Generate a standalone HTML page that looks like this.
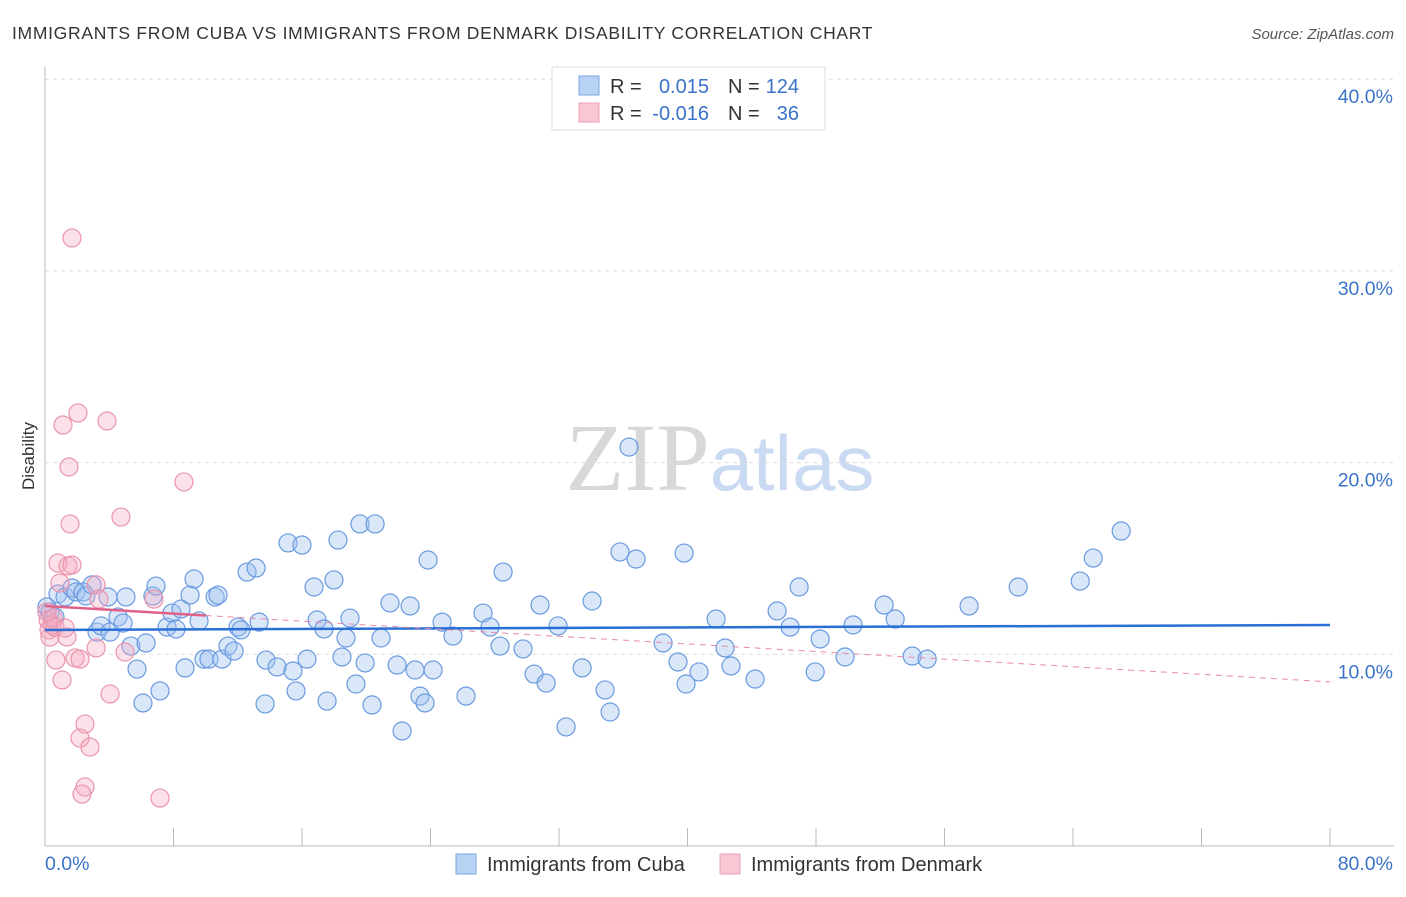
<!DOCTYPE html>
<html><head><meta charset="utf-8">
<style>
body{margin:0;background:#fff;font-family:"Liberation Sans",sans-serif;}
svg text{font-family:"Liberation Sans",sans-serif;}
</style></head>
<body>
<svg id="chart" width="1406" height="892" viewBox="0 0 1406 892" xmlns="http://www.w3.org/2000/svg">
<text x="12" y="39" font-size="17.5" letter-spacing="0.7" fill="#333">IMMIGRANTS FROM CUBA VS IMMIGRANTS FROM DENMARK DISABILITY CORRELATION CHART</text>
<text x="1394" y="39" font-size="15" fill="#555" font-style="italic" text-anchor="end">Source: ZipAtlas.com</text>
<text x="720" y="490" font-size="96" text-anchor="middle"><tspan fill="#d8d8d8" font-family="Liberation Serif">ZIP</tspan><tspan fill="#c9daf2" font-size="78">atlas</tspan></text>
<g id="grid"></g>
<g id="axes"></g>
<g id="marks"></g>
<g id="trends"></g>
<text transform="translate(34,456) rotate(-90)" font-size="17" fill="#333" text-anchor="middle">Disability</text>
<g>
<rect x="552" y="67" width="273" height="63" fill="#fff" stroke="#ddd"/>
<rect x="579" y="76" width="20" height="19" fill="#b8d2f4" stroke="#7aa6e4"/>
<rect x="579" y="103" width="20" height="19" fill="#f9c6d4" stroke="#eba0b6"/>
<text x="610" y="93" font-size="20" fill="#333">R = </text><text x="709" y="93" font-size="20" fill="#3b73c8" text-anchor="end">0.015</text>
<text x="728" y="93" font-size="20" fill="#333">N = </text><text x="799" y="93" font-size="20" fill="#3b73c8" text-anchor="end">124</text>
<text x="610" y="120" font-size="20" fill="#333">R = </text><text x="709" y="120" font-size="20" fill="#3b73c8" text-anchor="end">-0.016</text>
<text x="728" y="120" font-size="20" fill="#333">N = </text><text x="799" y="120" font-size="20" fill="#3b73c8" text-anchor="end">36</text>
</g>
<g>
<rect x="456" y="854" width="20" height="20" fill="#b8d2f4" stroke="#7aa6e4"/>
<text x="487" y="871" font-size="20" fill="#333">Immigrants from Cuba</text>
<rect x="720" y="854" width="20" height="20" fill="#f9c6d4" stroke="#eba0b6"/>
<text x="751" y="871" font-size="20" fill="#333">Immigrants from Denmark</text>
</g>
</svg>
<script>
const yTicks=[10,20,30,40];
const yTickLabels=["10.0%","20.0%","30.0%","40.0%"];
const xTickLabels=["0.0%","80.0%"];
const cubaX=[0.12,0.31,0.62,0.81,1.25,1.68,1.93,2.37,2.55,2.93,3.24,3.49,3.92,4.05,4.55,4.86,5.04,5.35,5.73,6.10,6.29,6.72,6.91,7.16,7.60,7.91,8.16,8.47,8.72,9.03,9.28,9.59,9.90,10.21,10.59,10.77,11.02,11.39,11.77,12.02,12.20,12.58,13.14,13.33,13.70,13.76,14.45,15.13,15.63,15.44,16.00,16.31,16.75,16.94,17.37,17.56,17.99,18.24,18.49,18.74,18.99,19.36,19.61,19.93,20.36,20.55,20.92,21.48,21.92,22.23,22.73,23.04,23.35,23.66,23.85,24.16,24.72,25.40,26.21,27.27,27.71,28.33,28.52,29.76,30.45,30.82,31.20,31.94,32.44,33.44,34.06,34.87,35.18,35.80,36.36,36.80,38.48,39.41,39.79,39.91,40.72,41.78,42.34,42.71,44.21,45.58,46.39,46.95,47.95,48.26,49.81,50.31,52.24,52.93,53.99,54.92,57.53,60.59,64.45,65.26,67.00];
const cubaY=[12.47,12.21,11.95,13.15,12.99,13.46,13.25,13.25,13.04,13.62,11.16,11.48,12.99,11.16,11.95,11.63,12.99,10.43,9.23,7.46,10.59,13.04,13.56,8.09,11.42,12.15,11.32,12.36,9.29,13.09,13.93,11.74,9.75,9.75,12.99,13.09,9.75,10.43,10.17,11.42,11.27,14.29,14.50,11.68,7.41,9.70,9.34,15.81,8.09,9.13,15.70,9.75,13.51,11.79,11.32,7.56,13.88,15.96,9.86,10.85,11.89,8.45,16.80,9.55,7.36,16.80,10.85,12.68,9.44,6.00,12.52,9.18,7.82,7.46,14.92,9.18,11.68,10.95,7.82,12.15,11.42,10.43,14.29,10.28,8.97,12.57,8.50,11.48,6.21,9.29,12.78,8.14,6.99,15.34,20.81,14.97,10.59,9.60,15.28,8.45,9.08,11.84,10.33,9.39,8.71,12.26,11.42,13.51,9.08,10.80,9.86,11.53,12.57,11.84,9.91,9.75,12.52,13.51,13.82,15.02,16.43];
const denX=[0.12,0.19,0.25,0.31,0.44,0.50,0.62,0.81,0.93,1.06,1.12,1.25,1.37,1.43,1.49,1.56,1.68,1.68,1.87,2.05,2.18,2.49,2.18,2.49,2.80,3.18,3.18,3.36,3.86,4.05,4.73,4.98,6.79,7.16,8.65,2.30,0.68];
const denY=[12.21,11.79,11.27,10.90,11.53,11.89,11.42,14.76,13.72,8.66,21.96,11.37,10.90,14.61,19.77,16.80,14.66,31.72,9.81,22.59,9.75,6.36,5.63,3.08,5.16,10.33,13.62,12.88,22.17,7.93,17.16,10.12,12.88,2.50,18.99,2.71,9.70];
const cubaTrend=[11.27,11.53];
const denTrend=[12.52,8.56];
const denSolidEnd=10;

const X0=45,X1=1330,Y0=846,PX=(X1-X0)/80,PY=19.17;
const sx=v=>X0+v*PX, sy=v=>Y0-v*PY;
const NS="http://www.w3.org/2000/svg";
function mk(tag,attrs,parent){const e=document.createElementNS(NS,tag);for(const k in attrs)e.setAttribute(k,attrs[k]);document.getElementById(parent).appendChild(e);return e;}

yTicks.forEach((t,i)=>{
  const g=mk('line',{x1:X0,x2:1394,y1:sy(t),y2:sy(t),stroke:'#ddd','stroke-dasharray':'4,4'},'grid');
  
  
  const tx=mk('text',{x:1393,y:sy(t)+24,'font-size':19.5,fill:'#3b73c8','text-anchor':'end'},'axes');
  tx.textContent=yTickLabels[i];
  
  
});
let ax=mk('line',{x1:X0,x2:X0,y1:67,y2:Y0,stroke:'#bbb'},'axes');


ax=mk('line',{x1:X0,x2:1394,y1:Y0,y2:Y0,stroke:'#bbb'},'axes');


for(let i=1;i<=10;i++){
  const tk=mk('line',{x1:sx(i*8),x2:sx(i*8),y1:828,y2:Y0,stroke:'#bbb'},'axes');
  
  
}
let xl=mk('text',{x:45,y:870,'font-size':19.5,fill:'#3b73c8'},'axes');xl.textContent=xTickLabels[0];


xl=mk('text',{x:1393,y:870,'font-size':19.5,fill:'#3b73c8','text-anchor':'end'},'axes');xl.textContent=xTickLabels[1];



cubaX.forEach((v,i)=>{
  const c=mk('circle',{cx:sx(v),cy:sy(cubaY[i]),r:9,fill:'rgba(160,195,240,0.4)',stroke:'#6a9ae0','stroke-width':1.2},'marks');
  
  
});
denX.forEach((v,i)=>{
  const c=mk('circle',{cx:sx(v),cy:sy(denY[i]),r:9,fill:'rgba(245,170,192,0.35)',stroke:'#e995ad','stroke-width':1.2},'marks');
  
  
});
let l=mk('line',{x1:sx(0),x2:sx(80),y1:sy(cubaTrend[0]),y2:sy(cubaTrend[1]),stroke:'#2a6fd6','stroke-width':2.5},'trends');


const dAt=x=>denTrend[0]+(denTrend[1]-denTrend[0])*x/80;
l=mk('line',{x1:sx(0),x2:sx(denSolidEnd),y1:sy(dAt(0)),y2:sy(dAt(denSolidEnd)),stroke:'#e0608a','stroke-width':2.5},'trends');


l=mk('line',{x1:sx(denSolidEnd),x2:sx(80),y1:sy(dAt(denSolidEnd)),y2:sy(dAt(80)),stroke:'#e88aa6','stroke-width':1,'stroke-dasharray':'6,5'},'trends');


</script>
</body></html>
